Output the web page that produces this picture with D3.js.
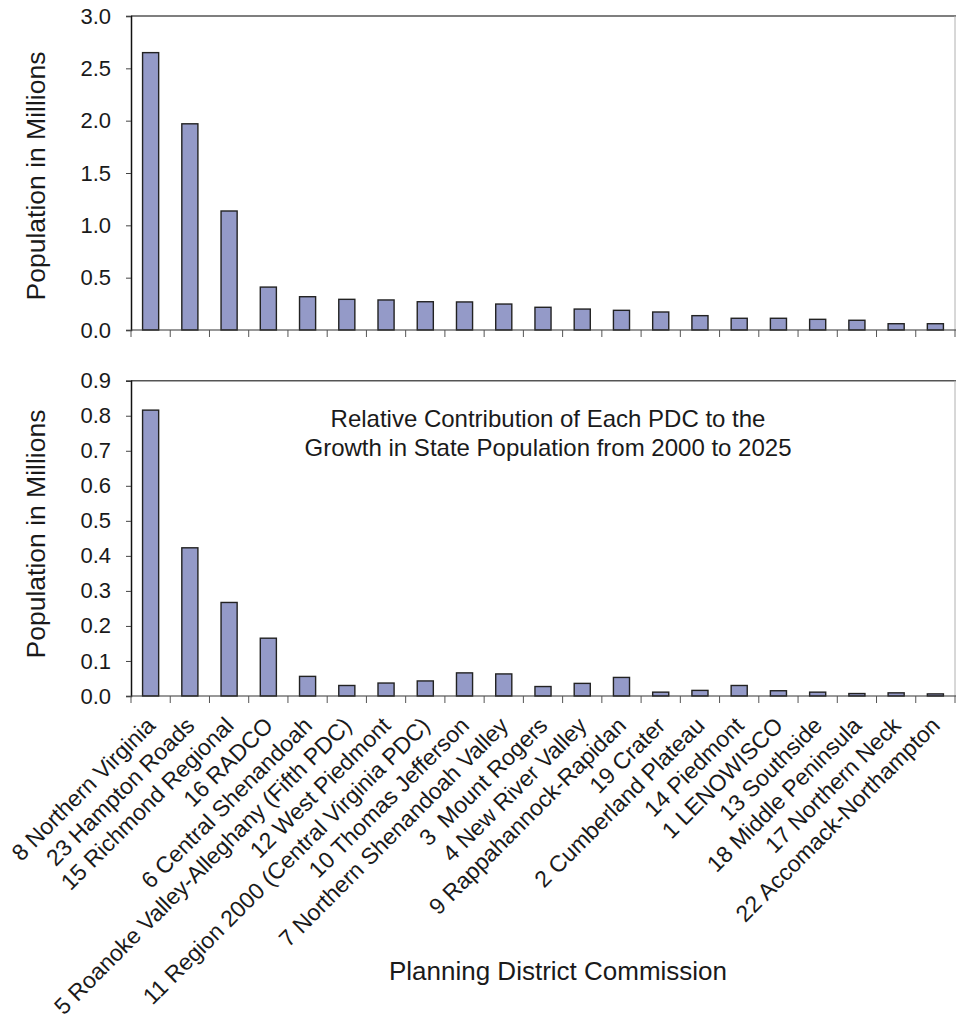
<!DOCTYPE html>
<html>
<head>
<meta charset="utf-8">
<script src="https://cdn.jsdelivr.net/npm/d3@7/dist/d3.min.js"></script>
<style>
  html, body { margin: 0; padding: 0; background: #ffffff; }
  svg { display: block; font-family: "Liberation Sans", Arial, sans-serif; }
</style>
</head>
<body>
<svg id="chart" width="956" height="1019"></svg>
<script>
// Planning District Commissions, ordered by population
const categories = [
  "8 Northern Virginia",
  "23 Hampton Roads",
  "15 Richmond Regional",
  "16 RADCO",
  "6 Central Shenandoah",
  "5 Roanoke Valley-Alleghany (Fifth PDC)",
  "12 West Piedmont",
  "11 Region 2000 (Central Virginia PDC)",
  "10 Thomas Jefferson",
  "7 Northern Shenandoah Valley",
  "3  Mount Rogers",
  "4 New River Valley",
  "9 Rappahannock-Rapidan",
  "19 Crater",
  "2 Cumberland Plateau",
  "14 Piedmont",
  "1 LENOWISCO",
  "13 Southside",
  "18 Middle Peninsula",
  "17 Northern Neck",
  "22 Accomack-Northampton"
];

// Population (millions) of each PDC
const totalPopulation = [
  2.65, 1.97, 1.137, 0.41, 0.318, 0.293, 0.287, 0.27, 0.268, 0.248, 0.217,
  0.20, 0.188, 0.172, 0.137, 0.112, 0.112, 0.102, 0.093, 0.06, 0.06
];

// Growth in population (millions) from 2000 to 2025
const populationGrowth = [
  0.816, 0.423, 0.267, 0.165, 0.056, 0.030, 0.037, 0.043, 0.066, 0.063, 0.027,
  0.036, 0.053, 0.011, 0.016, 0.030, 0.015, 0.011, 0.007, 0.009, 0.006
];

const topTicks = [0, 0.5, 1.0, 1.5, 2.0, 2.5, 3.0];
const bottomTicks = [0, 0.1, 0.2, 0.3, 0.4, 0.5, 0.6, 0.7, 0.8, 0.9];

const yTitle = "Population in Millions";
const xTitle = "Planning District Commission";
const noteLines = [
  "Relative Contribution of Each PDC to the",
  "Growth in State Population from 2000 to 2025"
];

const svg = d3.select("#chart");
const barFill = "#949ac8";
const barStroke = "#222222";

const left = 131, right = 955;

const x = d3.scaleBand()
  .domain(categories)
  .range([left, right])
  .paddingInner(0.59)
  .paddingOuter(0.295);

function drawPanel(values, ticks, top, bottom, titleY) {
  const y = d3.scaleLinear()
    .domain([0, ticks[ticks.length - 1]])
    .range([bottom, top]);

  const g = svg.append("g");

  // frame: top and right edges
  g.append("line")
    .attr("x1", left).attr("x2", right + 1)
    .attr("y1", top).attr("y2", top)
    .attr("stroke", "#555").attr("stroke-width", 1.5);
  g.append("line")
    .attr("x1", right).attr("x2", right)
    .attr("y1", top).attr("y2", bottom)
    .attr("stroke", "#b0b0b0").attr("stroke-width", 1);

  // bars
  g.selectAll("rect.bar")
    .data(values)
    .join("rect")
    .attr("class", "bar")
    .attr("x", (d, i) => x(categories[i]))
    .attr("width", x.bandwidth())
    .attr("y", d => y(d))
    .attr("height", d => y(0) - y(d))
    .attr("fill", barFill)
    .attr("stroke", barStroke)
    .attr("stroke-width", 1.4);

  // y axis
  const yAxis = d3.axisLeft(y)
    .tickValues(ticks)
    .tickFormat(d3.format(".1f"))
    .tickSize(5)
    .tickPadding(15);
  const ya = g.append("g")
    .attr("transform", `translate(${left},0)`)
    .call(yAxis);
  ya.select(".domain").attr("stroke", "#111").attr("stroke-width", 1.5);
  ya.selectAll(".tick line").attr("stroke", "#444");
  ya.selectAll(".tick text")
    .attr("font-size", 22)
    .attr("fill", "#1a1a1a")
    .attr("font-family", "Liberation Sans, Arial, sans-serif");

  // x baseline and category separators
  g.append("line")
    .attr("x1", left).attr("x2", right + 1)
    .attr("y1", bottom).attr("y2", bottom)
    .attr("stroke", "#333").attr("stroke-width", 1.2);
  const bounds = d3.range(categories.length + 1).map(i => left + i * x.step());
  g.selectAll("line.sep")
    .data(bounds)
    .join("line")
    .attr("class", "sep")
    .attr("x1", d => d).attr("x2", d => d)
    .attr("y1", bottom).attr("y2", bottom + 7)
    .attr("stroke", "#555").attr("stroke-width", 1);

  // y title
  svg.append("text")
    .attr("transform", `translate(45,${titleY}) rotate(-90)`)
    .attr("text-anchor", "middle")
    .attr("font-size", 26.5)
    .attr("fill", "#1a1a1a")
    .text(yTitle);

  return y;
}

drawPanel(totalPopulation, topTicks, 16, 330, 176);
drawPanel(populationGrowth, bottomTicks, 380.7, 696, 534);

// note inside the lower panel
svg.append("text")
  .attr("x", 548)
  .attr("y", 427)
  .attr("text-anchor", "middle")
  .attr("font-size", 24)
  .attr("fill", "#1a1a1a")
  .selectAll("tspan")
  .data(noteLines)
  .join("tspan")
  .attr("x", 548)
  .attr("dy", (d, i) => i === 0 ? 0 : 28.7)
  .text(d => d);

// rotated category labels under the lower panel
svg.append("g")
  .selectAll("text")
  .data(categories)
  .join("text")
  .attr("transform", d => `translate(${x(d) + x.bandwidth() / 2 + 6},727) rotate(-45)`)
  .attr("text-anchor", "end")
  .attr("font-size", 23)
  .attr("fill", "#1a1a1a")
  .attr("xml:space", "preserve")
  .style("white-space", "pre")
  .text(d => d);

// x title
svg.append("text")
  .attr("x", 558)
  .attr("y", 980)
  .attr("text-anchor", "middle")
  .attr("font-size", 26)
  .attr("fill", "#1a1a1a")
  .text(xTitle);
</script>
</body>
</html>
